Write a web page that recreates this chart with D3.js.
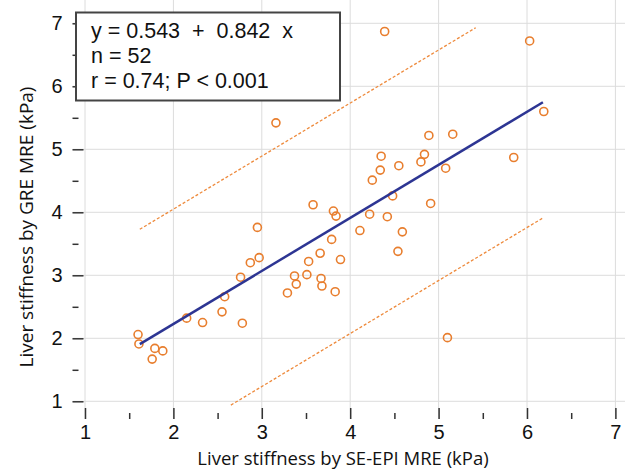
<!DOCTYPE html>
<meta charset="utf-8">
<style>
body { margin: 0; background: #fff; }
svg { display: block; }
.axis text { font-family: "Liberation Sans", Arial, sans-serif; font-size: 20px; fill: #111; }
.axis line { stroke: #333; stroke-width: 1.5; }
.grid line { stroke: #dcdcdc; stroke-width: 1; }
</style>
<svg width="631" height="469" id="chart"></svg>
<script src="https://d3js.org/d3.v7.min.js"></script>
<script>
// SE-EPI MRE (x) vs GRE MRE (y), kPa
var seEpi = [1.60, 1.61, 1.79, 1.88, 1.76, 2.15, 2.33, 2.55, 2.58, 2.78,
             2.76, 2.87, 2.97, 2.95, 3.58, 3.81, 3.84, 3.79, 3.66, 3.53,
             3.89, 3.37, 3.51, 3.39, 3.67, 3.68, 3.29, 3.83, 4.22, 4.42,
             4.11, 4.59, 4.54, 4.39, 3.16, 4.35, 4.34, 4.55, 4.25, 4.48,
             6.03, 6.19, 4.89, 5.16, 4.84, 4.80, 5.08, 5.85, 4.91, 5.10];
var gre   = [2.06, 1.91, 1.84, 1.80, 1.67, 2.32, 2.25, 2.42, 2.66, 2.24,
             2.97, 3.20, 3.28, 3.76, 4.12, 4.02, 3.94, 3.57, 3.35, 3.22,
             3.25, 2.99, 3.01, 2.86, 2.95, 2.83, 2.72, 2.74, 3.97, 3.93,
             3.71, 3.69, 3.38, 6.87, 5.42, 4.89, 4.67, 4.74, 4.51, 4.26,
             6.72, 5.60, 5.22, 5.24, 4.92, 4.80, 4.70, 4.87, 4.14, 2.01];

// regression line y = 0.543 + 0.842 x, and the dashed prediction limits
var fitLine   = [[1.62, 1.907], [6.18, 5.747]];
var upperBand = [[1.62, 3.73], [5.42, 6.93]];
var lowerBand = [[2.65, 0.94], [6.18, 3.91]];

var xTicks = [1, 2, 3, 4, 5, 6, 7];
var yTicks = [1, 2, 3, 4, 5, 6, 7];
var minorTicks = [1.5, 2.5, 3.5, 4.5, 5.5, 6.5];

var statLines = ["y = 0.543  +  0.842  x", "n = 52", "r = 0.74; P < 0.001"];
var xTitle = "Liver stiffness by SE-EPI MRE (kPa)";
var yTitle = "Liver stiffness by GRE MRE (kPa)";

var svg = d3.select("#chart"),
    axisX = 72.5,     // left axis line
    axisY = 419,      // bottom axis line
    top = 12, right = 625;

var x = d3.scaleLinear().domain([1, 7]).range([85, 615.4]);
var y = d3.scaleLinear().domain([1, 7]).range([401.3, 23.3]);

// grid
var grid = svg.append("g").attr("class", "grid");
grid.selectAll("line.h").data(yTicks).enter().append("line")
    .attr("x1", axisX).attr("x2", right)
    .attr("y1", function(d) { return y(d); }).attr("y2", function(d) { return y(d); });
grid.selectAll("line.v").data(xTicks).enter().append("line")
    .attr("y1", top).attr("y2", axisY)
    .attr("x1", function(d) { return x(d); }).attr("x2", function(d) { return x(d); });

// axes, ticks pointing inward
var gx = svg.append("g").attr("class", "axis").attr("transform", "translate(0," + axisY + ")");
gx.call(d3.axisBottom(x).tickValues(xTicks).tickSize(-11).tickFormat(d3.format("d")));
gx.append("g").call(d3.axisBottom(x).tickValues(minorTicks).tickSize(-6).tickFormat(""));
gx.selectAll(".domain").remove();
gx.selectAll("text").attr("y", 6);

var gy = svg.append("g").attr("class", "axis").attr("transform", "translate(" + axisX + ",0)");
gy.call(d3.axisLeft(y).tickValues(yTicks).tickSize(-11).tickFormat(d3.format("d")));
gy.append("g").call(d3.axisLeft(y).tickValues(minorTicks).tickSize(-6).tickFormat(""));
gy.selectAll(".domain").remove();
gy.selectAll("text").attr("x", -10);

svg.append("path")
    .attr("d", "M" + axisX + "," + top + "V" + axisY + "H" + right)
    .attr("fill", "none").attr("stroke", "#333").attr("stroke-width", 2);

// prediction limits
var line = d3.line().x(function(d) { return x(d[0]); }).y(function(d) { return y(d[1]); });
[upperBand, lowerBand].forEach(function(b) {
  svg.append("path").attr("d", line(b))
    .attr("fill", "none").attr("stroke", "#ee8a3c")
    .attr("stroke-width", 1.3).attr("stroke-dasharray", "3,2");
});

// points
svg.append("g").selectAll("circle").data(seEpi).enter().append("circle")
    .attr("cx", function(d) { return x(d); })
    .attr("cy", function(d, i) { return y(gre[i]); })
    .attr("r", 4)
    .attr("fill", "none").attr("stroke", "#e87e2e").attr("stroke-width", 1.6);

// regression
svg.append("path").attr("d", line(fitLine))
    .attr("fill", "none").attr("stroke", "#2d3593").attr("stroke-width", 2.5);

// stats box
svg.append("rect").attr("x", 76).attr("y", 12.5).attr("width", 264).attr("height", 88)
    .attr("fill", "#fff").attr("stroke", "#444").attr("stroke-width", 2);
svg.append("g").selectAll("text").data(statLines).enter().append("text")
    .attr("x", 91).attr("y", function(d, i) { return 37.5 + i * 25; })
    .attr("font-family", "Liberation Sans, Arial, sans-serif")
    .attr("font-size", 21.5).attr("fill", "#111")
    .style("white-space", "pre")
    .text(function(d) { return d; });

// titles
svg.append("text").attr("x", 343).attr("y", 464.5)
    .attr("text-anchor", "middle")
    .attr("font-family", "Open Sans, sans-serif").attr("font-size", 18.5).attr("fill", "#111")
    .text(xTitle);
svg.append("text").attr("transform", "translate(33,227) rotate(-90)")
    .attr("text-anchor", "middle")
    .attr("font-family", "Open Sans, sans-serif").attr("font-size", 19).attr("fill", "#111")
    .text(yTitle);
</script>
